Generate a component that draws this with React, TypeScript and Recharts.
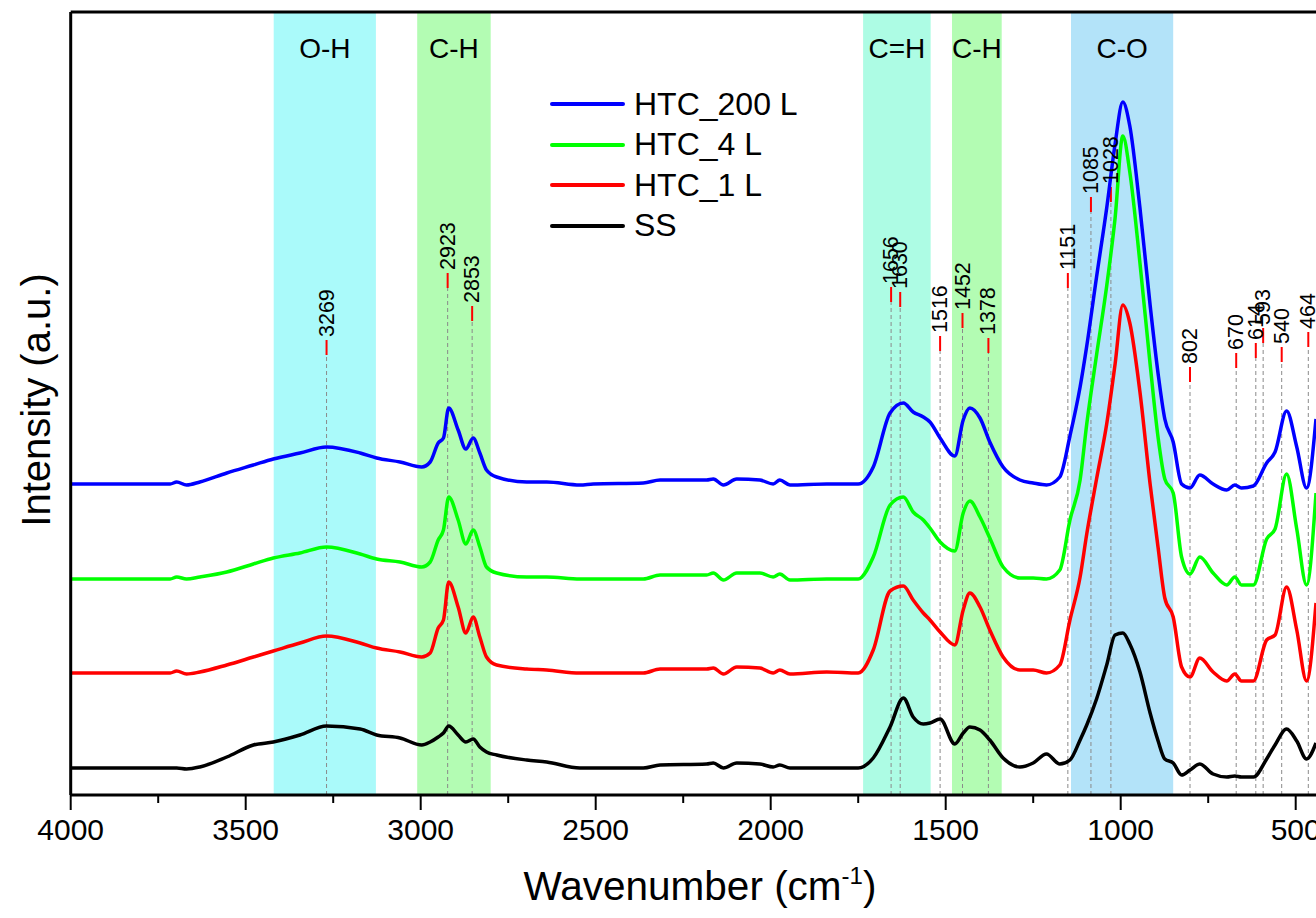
import { LineChart, Line, XAxis, YAxis, ReferenceArea, ReferenceLine, ReferenceDot } from 'recharts'

const FONT = '"Liberation Sans", Arial, sans-serif'

// wavenumber grid (cm-1), shared by all spectra
const WAVENUMBER = [
  4000, 3716, 3697, 3669, 3631, 3554, 3478, 3421, 3345, 3269, 3173, 3126, 3059, 2997, 2973, 2950, 2935, 2920, 2893, 2871,
  2850, 2831, 2812, 2783, 2697, 2640, 2545, 2507, 2364, 2316, 2183, 2164, 2135, 2097, 2031, 1993, 1974, 1945, 1840, 1750,
  1707, 1659, 1621, 1593, 1564, 1545, 1516, 1474, 1450, 1431, 1402, 1374, 1336, 1288, 1250, 1212, 1174, 1145, 1116, 1097,
  1069, 1040, 1016, 994, 974, 945, 916, 893, 874, 850, 826, 802, 774, 736, 697, 674, 655, 621, 583, 559, 526, 497, 469, 442,
]

// stacked intensities (a.u., offsets included)
const HTC_200 = [
  315, 315, 317, 314, 317, 326, 334, 340, 346, 352, 346, 341, 337, 332, 337, 356, 361, 391, 369, 350,
  361, 346, 329, 322, 317, 317, 314, 315, 316, 319, 319, 320, 314, 320, 319, 315, 319, 314, 315, 315,
  332, 386, 396, 387, 382, 377, 361, 343, 379, 391, 381, 357, 332, 319, 316, 314, 322, 363, 412, 453,
  522, 591, 655, 697, 673, 591, 494, 425, 380, 357, 315, 311, 324, 315, 309, 314, 311, 313, 336, 347, 388, 352, 311, 380,
]
const HTC_4 = [
  220, 220, 222, 220, 222, 227, 235, 241, 246, 252, 245, 240, 237, 232, 237, 259, 269, 302, 279, 255,
  269, 252, 232, 226, 222, 222, 220, 220, 220, 224, 224, 226, 219, 226, 226, 222, 225, 219, 220, 220,
  242, 294, 302, 287, 279, 271, 257, 248, 286, 298, 282, 261, 232, 221, 221, 220, 229, 279, 319, 375,
  444, 513, 581, 663, 627, 536, 435, 361, 320, 306, 242, 225, 242, 226, 214, 222, 214, 214, 260, 270, 325, 270, 214, 306,
]
const HTC_1 = [
  126, 126, 128, 125, 127, 134, 142, 148, 156, 163, 156, 151, 147, 142, 146, 171, 179, 217, 192, 166,
  182, 162, 142, 134, 130, 129, 126, 126, 126, 130, 130, 131, 125, 132, 131, 126, 129, 125, 127, 126,
  149, 208, 213, 199, 186, 179, 167, 154, 189, 206, 192, 169, 142, 129, 129, 126, 134, 179, 222, 265,
  320, 375, 435, 494, 476, 407, 315, 251, 201, 182, 132, 122, 141, 127, 118, 125, 118, 118, 159, 164, 212, 169, 118, 196,
]
const SS = [
  31, 31, 31, 30, 32, 42, 54, 57, 64, 73, 70, 64, 61, 54, 57, 62, 66, 73, 64, 57,
  60, 52, 47, 44, 39, 37, 31, 31, 31, 34, 35, 36, 31, 36, 35, 32, 34, 31, 31, 31,
  41, 72, 101, 82, 75, 76, 80, 55, 66, 72, 69, 59, 41, 32, 36, 45, 35, 39, 59, 74,
  100, 134, 164, 166, 155, 127, 86, 58, 40, 36, 24, 29, 35, 25, 22, 23, 22, 22, 40, 54, 70, 58, 40, 56,
]

const MAJOR_TICKS = [4000, 3500, 3000, 2500, 2000, 1500, 1000, 500]
const MINOR_TICKS = [3750, 3250, 2750, 2250, 1750, 1250, 750]

// shaded assignment bands: [label, from, to, colour]
const BANDS: [string, number, number, string][] = [
  ['O-H', 3420, 3128, '#aafafa'],
  ['C-H', 3010, 2800, '#b3fcb3'],
  ['C=H', 1736, 1543, '#adfce4'],
  ['C-H', 1482, 1340, '#b3fcb3'],
  ['C-O', 1142, 850, '#b3e3f9'],
]

// peak markers: [wavenumber, top of red tick]
const PEAKS: [number, number][] = [
  [3269, 459], [2923, 526], [2853, 493], [1656, 512], [1630, 507], [1516, 463], [1452, 486], [1378, 461],
  [1151, 526], [1085, 602], [1028, 612], [802, 432], [670, 446], [614, 456], [593, 471], [540, 452], [464, 467],
]
const TICK_LEN = 15

const SERIES = [
  { key: 'ss', name: 'SS', color: '#000000' },
  { key: 'h1', name: 'HTC_1 L', color: '#ff0000' },
  { key: 'h4', name: 'HTC_4 L', color: '#00ff00' },
  { key: 'h200', name: 'HTC_200 L', color: '#0000ff' },
]

const Y_MIN = 4
const Y_MAX = 787

const data = WAVENUMBER.map((w, i) => ({ w, h200: HTC_200[i], h4: HTC_4[i], h1: HTC_1[i], ss: SS[i] }))

function AxisTick(props: any) {
  const { x, y, payload } = props
  const major = MAJOR_TICKS.includes(payload.value)
  return (
    <g>
      <line x1={x} x2={x} y1={y} y2={y + (major ? 15 : 8)} stroke="#000" strokeWidth={2} />
      {major && (
        <text x={x} y={y + 45} textAnchor="middle" fontSize={30} fontFamily={FONT} fill="#000">
          {payload.value}
        </text>
      )}
    </g>
  )
}

export default function App() {
  return (
    <div style={{ position: 'fixed', left: 0, top: 0, width: 1316, height: 918, overflow: 'hidden', background: '#fff' }}>
      <LineChart width={1400} height={918} data={data} margin={{ top: 12, right: 69.3, bottom: 63, left: 70.7 }}>
        <XAxis
          type="number"
          dataKey="w"
          domain={[400, 4000]}
          reversed
          allowDataOverflow
          ticks={[...MAJOR_TICKS, ...MINOR_TICKS]}
          interval={0}
          tickSize={0}
          tickMargin={0}
          tick={<AxisTick />}
          axisLine={{ stroke: '#000', strokeWidth: 3 }}
          height={60}
        />
        <YAxis hide type="number" domain={[Y_MIN, Y_MAX]} allowDataOverflow />
        {BANDS.map(([label, from, to, color], i) => (
          <ReferenceArea
            key={'band' + i}
            x1={from}
            x2={to}
            fill={color}
            fillOpacity={1}
            stroke="none"
            label={{ value: label, position: 'insideTop', offset: 26, fill: '#000', fontSize: 28, fontFamily: FONT }}
          />
        ))}
        {PEAKS.map(([w, top]) => (
          <ReferenceLine
            key={'dash' + w}
            segment={[{ x: w, y: Y_MIN }, { x: w, y: top - TICK_LEN }]}
            stroke="#8a8a8a"
            strokeWidth={1}
            strokeDasharray="4 3"
          />
        ))}
        {PEAKS.map(([w, top]) => (
          <ReferenceLine
            key={'red' + w}
            segment={[{ x: w, y: top - TICK_LEN }, { x: w, y: top }]}
            stroke="#ff0000"
            strokeWidth={2}
          />
        ))}
        {SERIES.map((s) => (
          <Line
            key={s.key}
            dataKey={s.key}
            name={s.name}
            type="monotone"
            stroke={s.color}
            strokeWidth={3.5}
            dot={false}
            isAnimationActive={false}
          />
        ))}
        {PEAKS.map(([w, top]) => (
          <ReferenceDot
            key={'lab' + w}
            x={w}
            y={top}
            r={0}
            shape={(p: any) => (
              <text
                x={p.cx}
                y={p.cy - 3}
                transform={`rotate(-90 ${p.cx} ${p.cy - 3})`}
                dominantBaseline="central"
                fontSize={21.5}
                fontFamily={FONT}
                fill="#000"
              >
                {w}
              </text>
            )}
          />
        ))}
        <ReferenceLine x={4000} stroke="#000" strokeWidth={3} />
        <ReferenceLine y={Y_MAX} stroke="#000" strokeWidth={3} />
      </LineChart>

      <div style={{ position: 'absolute', left: 550, top: 84, fontFamily: FONT, fontSize: 32, color: '#000' }}>
        {[...SERIES].reverse().map((s) => (
          <div key={s.key} style={{ display: 'flex', alignItems: 'center', height: 40.5, whiteSpace: 'nowrap' }}>
            <span style={{ display: 'inline-block', width: 75, height: 4, borderRadius: 2, background: s.color, marginRight: 9 }} />
            <span>{s.name}</span>
          </div>
        ))}
      </div>

      <div
        style={{
          position: 'absolute', left: 0, width: 1400, top: 866, textAlign: 'center',
          fontFamily: FONT, fontSize: 40.5, lineHeight: '40px', color: '#000', whiteSpace: 'nowrap',
        }}
      >
        Wavenumber (cm<span style={{ fontSize: 24, position: 'relative', top: -16 }}>-1</span>)
      </div>
      <div
        style={{
          position: 'absolute', left: 36, top: 400, transform: 'translate(-50%, -50%) rotate(-90deg)',
          fontFamily: FONT, fontSize: 40, lineHeight: '40px', color: '#000', whiteSpace: 'nowrap',
        }}
      >
        Intensity (a.u.)
      </div>
    </div>
  )
}
